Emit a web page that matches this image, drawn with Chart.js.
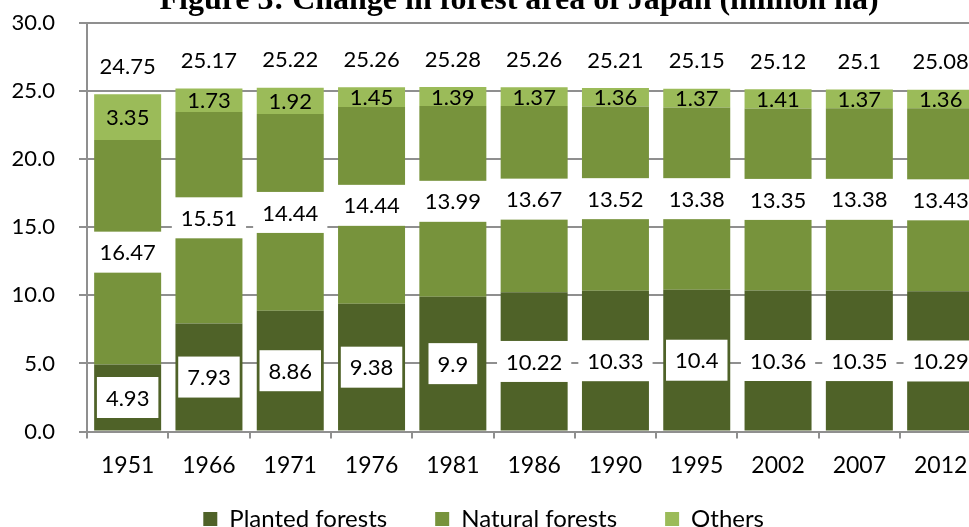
<!DOCTYPE html>
<html><head><meta charset="utf-8">
<script src="https://cdn.jsdelivr.net/npm/chart.js@4"></script>
<style>
html,body{margin:0;padding:0;overflow:hidden;background:#fff;width:969px;height:527px}
#wrap{position:absolute;left:0;top:0;width:990px;height:541px}
</style></head><body>
<div id="wrap"><canvas id="c"></canvas></div>
<script>
const categories = ['1951','1966','1971','1976','1981','1986','1990','1995','2002','2007','2012'];
const planted = [4.93, 7.93, 8.86, 9.38, 9.9, 10.22, 10.33, 10.4, 10.36, 10.35, 10.29];
const natural = [16.47, 15.51, 14.44, 14.44, 13.99, 13.67, 13.52, 13.38, 13.35, 13.38, 13.43];
const others = [3.35, 1.73, 1.92, 1.45, 1.39, 1.37, 1.36, 1.37, 1.41, 1.37, 1.36];
const totals = [24.75, 25.17, 25.22, 25.26, 25.28, 25.26, 25.21, 25.15, 25.12, 25.1, 25.08];
const seriesNames = ['Planted forests', 'Natural forests', 'Others'];
const titleText = 'Figure 3: Change in forest area of Japan (million ha)';

const FONT = 'Lato';
const GRID = '#8f8f8f';

const titlePlugin = {
  id: 'topTitle',
  afterDraw(chart) {
    const ctx = chart.ctx;
    ctx.save();
    ctx.font = 'bold 32px "Liberation Serif"';
    ctx.fillStyle = '#000';
    ctx.textAlign = 'center';
    ctx.textBaseline = 'alphabetic';
    ctx.fillText(titleText, 519, 9);
    ctx.restore();
  }
};

const labelPlugin = {
  id: 'barLabels',
  afterDatasetsDraw(chart) {
    const ctx = chart.ctx;
    ctx.save();
    ctx.font = '22px ' + FONT;
    ctx.textAlign = 'center';
    ctx.textBaseline = 'middle';
    chart.data.datasets.forEach((ds, di) => {
      const meta = chart.getDatasetMeta(di);
      meta.data.forEach((el, i) => {
        const txt = String(ds.data[i]);
        const cy = (el.y + el.base) / 2;
        if (ds.labelBox) {
          const w = ctx.measureText(txt).width + 18;
          const h = 41;
          ctx.fillStyle = '#fff';
          ctx.fillRect(el.x - w / 2, cy - h / 2, w, h);
        }
        ctx.fillStyle = '#000';
        ctx.fillText(txt, el.x, cy + 1);
      });
    });
    const ys = chart.scales.y;
    const m0 = chart.getDatasetMeta(0);
    totals.forEach((t, i) => {
      ctx.fillStyle = '#000';
      ctx.fillText(String(t), m0.data[i].x, ys.getPixelForValue(t) - 27.5);
    });
    ctx.restore();
  }
};

new Chart(document.getElementById('c'), {
  type: 'bar',
  data: {
    labels: categories,
    datasets: [
      { label: seriesNames[0], data: planted, backgroundColor: '#4F6228', borderWidth: 0, labelBox: true },
      { label: seriesNames[1], data: natural, backgroundColor: '#77933C', borderWidth: 0, labelBox: true },
      { label: seriesNames[2], data: others, backgroundColor: '#9BBB59', borderWidth: 0, labelBox: false }
    ]
  },
  options: {
    responsive: true,
    maintainAspectRatio: false,
    animation: false,
    layout: { padding: { top: 22.7, right: 8.7, left: -14, bottom: 0 } },
    datasets: { bar: { categoryPercentage: 1, barPercentage: 0.824 } },
    plugins: {
      title: { display: false },
      tooltip: { enabled: false },
      legend: {
        position: 'bottom',
        labels: {
          boxWidth: 14, boxHeight: 14, padding: 48,
          color: '#000',
          font: { family: FONT, size: 24 }
        }
      }
    },
    scales: {
      x: {
        stacked: true,
        afterFit(s) { s.height = 27.4; s.paddingLeft = 0; s.paddingRight = 0; s._computeLabelArea = () => null; },
        grid: { offset: true, drawOnChartArea: false, drawTicks: true, tickLength: 7, color: GRID, lineWidth: 2 },
        border: { color: GRID, width: 2 },
        ticks: { color: '#000', font: { family: FONT, size: 23 }, padding: 13, maxRotation: 0, autoSkip: false }
      },
      y: {
        stacked: true,
        min: 0, max: 30,
        afterFit(s) { s.width = 101; s.paddingTop = 0; s.paddingBottom = 0; },
        grid: { color: GRID, lineWidth: 2, tickLength: 8, drawTicks: true },
        border: { color: GRID, width: 2 },
        ticks: { stepSize: 5, color: '#000', font: { family: FONT, size: 22 }, padding: 24,
                 callback: v => Number(v).toFixed(1) }
      }
    }
  },
  plugins: [titlePlugin, labelPlugin]
});
</script>
</body></html>
